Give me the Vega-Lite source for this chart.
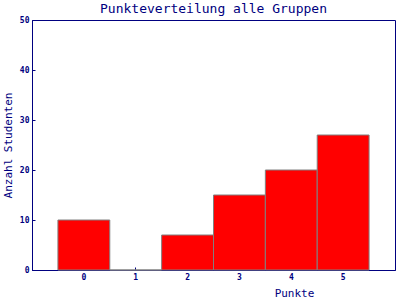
{
  "$schema": "https://vega.github.io/schema/vega-lite/v6.json",
  "width": 363,
  "height": 250,
  "autosize": "none",
  "padding": {"left": 32, "top": 20, "right": 5, "bottom": 30},
  "background": "white",
  "title": {
    "text": "Punkteverteilung alle Gruppen",
    "font": "DejaVu Sans Mono",
    "fontSize": 13,
    "fontWeight": "normal",
    "color": "#000080",
    "baseline": "alphabetic",
    "offset": 0,
    "dy": 10
  },
  "data": {
    "values": [
      {"Punkte": 0, "Anzahl": 10},
      {"Punkte": 1, "Anzahl": 0},
      {"Punkte": 2, "Anzahl": 7},
      {"Punkte": 3, "Anzahl": 15},
      {"Punkte": 4, "Anzahl": 20},
      {"Punkte": 5, "Anzahl": 27}
    ]
  },
  "mark": {"type": "bar", "color": "#ff0000", "stroke": "#808080", "strokeWidth": 1},
  "encoding": {
    "x": {
      "field": "Punkte",
      "type": "ordinal",
      "scale": {"paddingInner": 0, "paddingOuter": 0.5},
      "axis": {
        "title": "Punkte",
        "titleFont": "DejaVu Sans Mono",
        "titleFontSize": 11,
        "titleFontWeight": "normal",
        "titleColor": "#000080",
        "titleX": 262,
        "titleY": 23,
        "titleBaseline": "middle",
        "titleAlign": "center",
        "labelAngle": 0,
        "labelFont": "DejaVu Sans Mono",
        "labelFontSize": 8,
        "labelFontWeight": "bold",
        "labelColor": "#000080",
        "labelPadding": 6,
        "tickSize": -3,
        "tickColor": "#000080",
        "domainColor": "#000080",
        "domainWidth": 1,
        "grid": false
      }
    },
    "y": {
      "field": "Anzahl",
      "type": "quantitative",
      "scale": {"domain": [0, 50], "nice": false},
      "axis": {
        "title": "Anzahl Studenten",
        "titleFont": "DejaVu Sans Mono",
        "titleFontSize": 11,
        "titleFontWeight": "normal",
        "titleColor": "#000080",
        "titlePadding": 6,
        "values": [0, 10, 20, 30, 40, 50],
        "labelFont": "DejaVu Sans Mono",
        "labelFontSize": 8,
        "labelFontWeight": "bold",
        "labelColor": "#000080",
        "labelPadding": 6,
        "tickSize": -3,
        "tickColor": "#000080",
        "domainColor": "#000080",
        "grid": false
      }
    }
  },
  "config": {
    "view": {"stroke": "#000080", "strokeWidth": 1}
  }
}
